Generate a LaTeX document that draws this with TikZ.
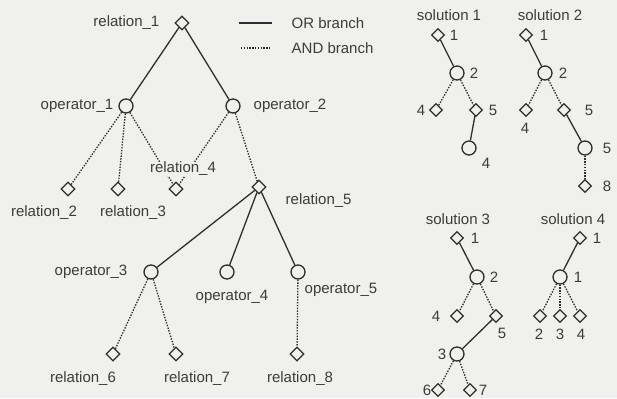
\documentclass[tikz,border=0pt]{standalone}
\usepackage{fontspec}
\setmainfont{Liberation Sans}
\usetikzlibrary{shapes.geometric, positioning}
\definecolor{paper}{HTML}{F0F0EE}
\definecolor{ink}{HTML}{2E2E2E}
\definecolor{txt}{HTML}{3C3C3C}
\tikzset{
  rel/.style={diamond, draw=ink, line width=1.3pt, aspect=1,
              minimum size=14pt, inner sep=0pt},
  srel/.style={rel, minimum size=13pt},
  op/.style={circle, draw=ink, line width=1.3pt, minimum size=14pt,
             inner sep=0pt},
  orb/.style={draw=ink, line width=1.3pt},
  andb/.style={draw=ink, line width=1.3pt, dash pattern=on 1.4pt off 1.4pt},
  lbl/.style={font=\fontsize{15}{17}\selectfont, text=txt, inner sep=0.5pt},
}

\begin{document}
\begin{tikzpicture}[x=1pt, y=-1pt]
  \fill[paper] (0,0) rectangle (617,398);

  % main tree
  \node[rel] (r1) at (182,23)  {};
  \node[op]  (o1) at (126,106) {};
  \node[op]  (o2) at (233,106) {};
  \node[rel] (r2) at (68,189)  {};
  \node[rel] (r3) at (118,189) {};
  \node[rel] (r4) at (176,189) {};
  \node[rel] (r5) at (259,187) {};
  \node[op]  (o3) at (151,272) {};
  \node[op]  (o4) at (227,272) {};
  \node[op]  (o5) at (298,272) {};
  \node[rel] (r6) at (113,354) {};
  \node[rel] (r7) at (176,354) {};
  \node[rel] (r8) at (297,354) {};

  \draw[orb] (r1) -- (o1);
  \draw[orb] (r1) -- (o2);
  \foreach \a/\b in {o1/r2, o1/r3, o1/r4, o2/r4, o2/r5, o3/r6, o3/r7, o5/r8}
    \draw[andb] (\a) -- (\b);
  \foreach \b in {o3, o4, o5}
    \draw[orb] (r5) -- (\b);

  \node[lbl, anchor=east] (tr1) at (160,23)  {relation\_1};
  \node[lbl, anchor=east] (to1) at (114,106) {operator\_1};
  \node[lbl, anchor=west] (to2) at (253,106) {operator\_2};
  \node[lbl] (tr2) at (44,213)  {relation\_2};
  \node[lbl] (tr3) at (133,213) {relation\_3};
  \node[lbl, fill=paper] (tr4) at (183,169) {relation\_4};
  \node[lbl, anchor=west] (tr5) at (285,201) {relation\_5};
  \node[lbl, anchor=east] (to3) at (128,272) {operator\_3};
  \node[lbl] (to4) at (232,297) {operator\_4};
  \node[lbl, anchor=west] (to5) at (304,290) {operator\_5};
  \node[lbl] (tr6) at (83,379)  {relation\_6};
  \node[lbl] (tr7) at (197,379) {relation\_7};
  \node[lbl] (tr8) at (300,379) {relation\_8};

  % legend
  \coordinate (orA) at (239,23);
  \coordinate (orB) at (272,23);
  \coordinate (andA) at (241,48);
  \coordinate (andB) at (271,48);
  \draw[orb] (orA) -- (orB);
  \draw[andb] (andA) -- (andB);
  \node[lbl, anchor=west] (tor) at (291,23)  {OR branch};
  \node[lbl, anchor=west] (tand) at (291,48) {AND branch};

  % solution 1
  \node[lbl] (t1) at (449,15) {solution 1};
  \node[srel] (s1a) at (438,35)  {};
  \node[op]   (s1b) at (457,73)  {};
  \node[srel] (s1c) at (436,110) {};
  \node[srel] (s1d) at (476,110) {};
  \node[op]   (s1e) at (469,148) {};
  \draw[orb] (s1a) -- (s1b);
  \draw[andb] (s1b) -- (s1c);
  \draw[andb] (s1b) -- (s1d);
  \draw[orb] (s1d) -- (s1e);
  \node[lbl] at (454,35)  {1};
  \node[lbl] at (474,73)  {2};
  \node[lbl] at (421,110) {4};
  \node[lbl] at (493,110) {5};
  \node[lbl] at (486,163) {4};

  % solution 2
  \node[lbl] (t2) at (550,15) {solution 2};
  \node[srel] (s2a) at (526,35)  {};
  \node[op]   (s2b) at (545,73)  {};
  \node[srel] (s2c) at (526,110) {};
  \node[srel] (s2d) at (564,110) {};
  \node[op]   (s2e) at (585,148) {};
  \node[srel] (s2f) at (585,186) {};
  \draw[orb] (s2a) -- (s2b);
  \draw[andb] (s2b) -- (s2c);
  \draw[andb] (s2b) -- (s2d);
  \draw[orb] (s2d) -- (s2e);
  \draw[andb] (s2e) -- (s2f);
  \node[lbl] at (544,35)  {1};
  \node[lbl] at (563,73)  {2};
  \node[lbl] at (525,128) {4};
  \node[lbl] at (589,110) {5};
  \node[lbl] at (607,148) {5};
  \node[lbl] at (607,186) {8};

  % solution 3
  \node[lbl] (t3) at (458,219) {solution 3};
  \node[srel] (s3a) at (457,238) {};
  \node[op]   (s3b) at (477,277) {};
  \node[srel] (s3c) at (457,316) {};
  \node[srel] (s3d) at (496,316) {};
  \node[op]   (s3e) at (457,354) {};
  \node[srel] (s3f) at (438,390) {};
  \node[srel] (s3g) at (470,390) {};
  \draw[orb] (s3a) -- (s3b);
  \draw[andb] (s3b) -- (s3c);
  \draw[andb] (s3b) -- (s3d);
  \draw[orb] (s3d) -- (s3e);
  \draw[andb] (s3e) -- (s3f);
  \draw[andb] (s3e) -- (s3g);
  \node[lbl] at (475,238) {1};
  \node[lbl] at (494,277) {2};
  \node[lbl] at (436,316) {4};
  \node[lbl] at (502,333) {5};
  \node[lbl] at (442,354) {3};
  \node[lbl] at (427,390) {6};
  \node[lbl] at (483,390) {7};

  % solution 4
  \node[lbl] (t4) at (573,219) {solution 4};
  \node[srel] (s4a) at (580,238) {};
  \node[op]   (s4b) at (560,277) {};
  \node[srel] (s4c) at (540,316) {};
  \node[srel] (s4d) at (560,316) {};
  \node[srel] (s4e) at (580,316) {};
  \draw[orb] (s4a) -- (s4b);
  \foreach \b in {s4c, s4d, s4e}
    \draw[andb] (s4b) -- (\b);
  \node[lbl] at (597,238) {1};
  \node[lbl] at (578,277) {1};
  \node[lbl] at (539,334) {2};
  \node[lbl] at (560,334) {3};
  \node[lbl] at (581,334) {4};
\end{tikzpicture}
\end{document}
